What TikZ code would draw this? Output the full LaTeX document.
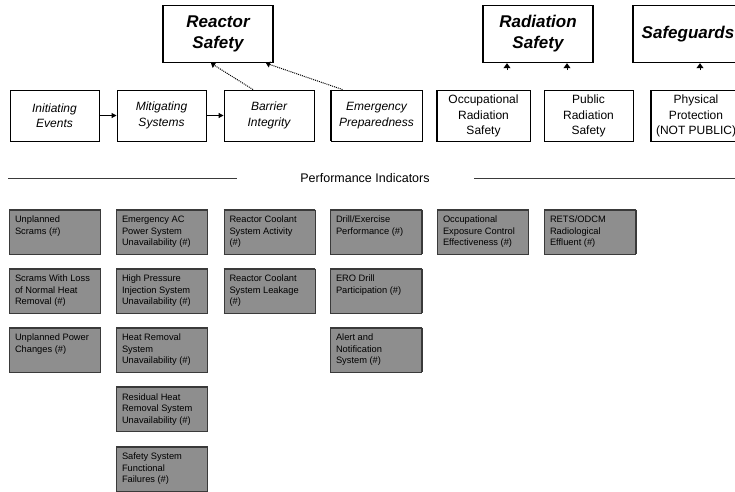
\documentclass[tikz,border=0pt]{standalone}
\usepackage{fontspec}
\setmainfont{Liberation Sans}
\usetikzlibrary{arrows.meta}
\definecolor{pigray}{HTML}{8E8E8E}
\definecolor{piedge}{HTML}{3A3A3A}
\newcommand\pitxt[1]{\parbox[c][38pt][t]{80pt}{\vspace{3pt}\raggedright\fontsize{9.3}{11.6}\selectfont #1}}
\begin{document}
\begin{tikzpicture}[x=1pt,y=-1pt,
 topbox/.style={draw=black, line width=1.4pt, fill=white, minimum width=110pt, minimum height=57pt, align=center, font=\fontsize{17}{21}\selectfont\bfseries\itshape, inner sep=0pt},
 catbox/.style={draw=black, line width=0.9pt, minimum width=89pt, minimum height=51pt, align=center, font=\fontsize{12}{15.5}\selectfont, inner sep=0pt},
 catit/.style={catbox, font=\fontsize{12}{15.5}\selectfont\itshape},
 pibox/.style={draw=piedge, fill=pigray, line width=0.8pt, inner xsep=5.5pt, inner ysep=3pt, anchor=center},
 flow/.style={-{Triangle[length=5pt,width=5pt]}, line width=1pt},
 dotlink/.style={densely dotted, line width=1pt, -{Triangle[length=4pt,width=6pt]}},
 stub/.style={-{Triangle[length=5pt,width=7pt]}, line width=1pt},
 rule/.style={line width=1pt, piedge},
 ]
\useasboundingbox (0,0) rectangle (735,491);

% top categories
\node[topbox] (rs) at (218,34) {Reactor\\Safety};
\node[topbox] (rad) at (538,34) {Radiation\\Safety};
\node[topbox] (sg) at (688,34) {Safeguards};

% cornerstones
\node[catit] (ie) at (54.5,115.5) {Initiating\\Events};
\node[catit] (ms) at (161.5,115.5) {Mitigating\\Systems};
\node[catit, minimum width=90pt] (bi) at (269,115.5) {Barrier\\Integrity};
\node[catit, minimum width=91pt] (ep) at (376.5,115.5) {Emergency\\Preparedness};
\node[catbox, minimum width=93pt] (ors) at (483.5,116) {Occupational\\Radiation\\Safety};
\node[catbox] (prs) at (588.5,116) {Public\\Radiation\\Safety};
\node[catbox, minimum width=90pt] (pp) at (696,116) {Physical\\Protection\\(NOT PUBLIC)};
\draw[line width=2pt] (ep.north west) -- (ep.south west);
\draw[line width=2pt] (ors.north west) -- (ors.south west);
\draw[line width=1.6pt] (pp.north west) -- (pp.south west);

\draw[flow] (ie) -- (ms);
\draw[flow] (ms) -- (bi);
\draw[dotlink] ([xshift=-16pt]bi.north) -- ([xshift=-7pt]rs.south);
\draw[dotlink] ([xshift=-34pt]ep.north) -- ([xshift=48pt]rs.south);
\coordinate (r1) at ([xshift=-31pt,yshift=-7pt]rad.south);
\coordinate (r2) at ([xshift=29pt,yshift=-7pt]rad.south);
\coordinate (g1) at ([xshift=12pt,yshift=-7pt]sg.south);
\draw[stub] (r1) -- (r1 |- rad.south);
\draw[stub] (r2) -- (r2 |- rad.south);
\draw[stub] (g1) -- (g1 |- sg.south);

% performance indicators heading
\node[font=\fontsize{12.5}{14}\selectfont] (pi) at (365,178) {Performance Indicators};
\coordinate (ll) at (8,178);
\coordinate (lr) at (237,178);
\coordinate (rl) at (474,178);
\coordinate (rr) at (735,178);
\draw[rule] (ll) -- (lr);
\draw[rule] (rl) -- (rr);

% indicators
\node[pibox] (a1) at (55,232) {\pitxt{Unplanned\\Scrams (\#)}};
\node[pibox] (a2) at (55,291) {\pitxt{Scrams With Loss\\of Normal Heat\\Removal (\#)}};
\node[pibox] (a3) at (55,350) {\pitxt{Unplanned Power\\Changes (\#)}};

\node[pibox] (b1) at (162,232) {\pitxt{Emergency AC\\Power System\\Unavailability (\#)}};
\node[pibox] (b2) at (162,291) {\pitxt{High Pressure\\Injection System\\Unavailability (\#)}};
\node[pibox] (b3) at (162,350) {\pitxt{Heat Removal\\System\\Unavailability (\#)}};
\node[pibox] (b4) at (162,409.5) {\pitxt{Residual Heat\\Removal System\\Unavailability (\#)}};
\node[pibox] (b5) at (162,469) {\pitxt{Safety System\\Functional\\Failures (\#)}};

\node[pibox] (c1) at (269.5,232) {\pitxt{Reactor Coolant\\System Activity\\(\#)}};
\node[pibox] (c2) at (269.5,291) {\pitxt{Reactor Coolant\\System Leakage\\(\#)}};

\node[pibox] (d1) at (376,232) {\pitxt{Drill/Exercise\\Performance (\#)}};
\node[pibox] (d2) at (376,291) {\pitxt{ERO Drill\\Participation (\#)}};
\node[pibox] (d3) at (376,350) {\pitxt{Alert and\\Notification\\System (\#)}};

\node[pibox] (e1) at (483,232) {\pitxt{Occupational\\Exposure Control\\Effectiveness (\#)}};
\node[pibox] (f1) at (590,232) {\pitxt{RETS/ODCM\\Radiological\\Effluent (\#)}};

\foreach \n in {a1,a2,a3,b1,b2,b3,b4,b5,c1,c2,d1,d2,d3,e1,f1}{
  \draw[piedge, line width=1.6pt] (\n.north west) -- (\n.north east);
}
\foreach \n in {a1,a2,c1,c2,e1}{
  \draw[piedge, line width=1.6pt] (\n.south west) -- (\n.south east);
}
\foreach \n in {c1,c2,d1,d2,d3,f1}{
  \draw[piedge, line width=1.4pt] (\n.north east) -- (\n.south east);
}
\end{tikzpicture}
\end{document}
